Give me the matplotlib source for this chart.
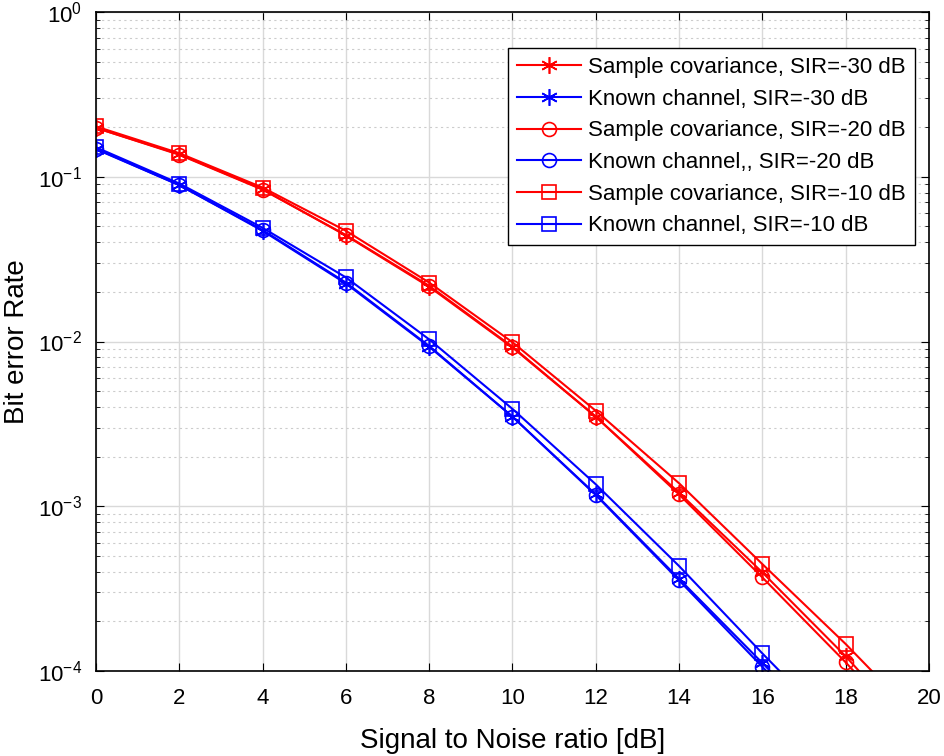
import numpy as np
import matplotlib.pyplot as plt

plt.rcParams['font.family'] = ['Liberation Sans', 'DejaVu Sans']
plt.rcParams['mathtext.fontset'] = 'custom'
plt.rcParams['mathtext.rm'] = 'Liberation Sans'
plt.rcParams['mathtext.it'] = 'Liberation Sans'
plt.rcParams['mathtext.default'] = 'regular'

# SNR points
snr = [0, 2, 4, 6, 8, 10, 12, 14, 16, 18, 20]

# BER curves
sc_30 = [0.198, 0.137, 0.084, 0.044, 0.0215, 0.0092, 0.0035, 0.00121, 0.000397, 0.000123, 3.4e-5]
kc_30 = [0.148, 0.089, 0.047, 0.0225, 0.0093, 0.0035, 0.00118, 0.000363, 0.000112, 3.4e-5, 1.0e-5]
sc_20 = [0.198, 0.136, 0.0835, 0.0443, 0.0218, 0.0093, 0.0035, 0.00118, 0.00037, 0.000113, 3.2e-5]
kc_20 = [0.147, 0.089, 0.0475, 0.0228, 0.0094, 0.0035, 0.00117, 0.000355, 0.000106, 3.2e-5, 9.5e-6]
sc_10 = [0.202, 0.139, 0.086, 0.047, 0.0228, 0.0099, 0.0038, 0.00138, 0.000446, 0.000146, 4.4e-5]
kc_10 = [0.151, 0.091, 0.049, 0.0245, 0.0103, 0.0039, 0.00136, 0.000434, 0.000128, 3.9e-5, 1.2e-5]

labels = ['Sample covariance, SIR=-30 dB', 'Known channel, SIR=-30 dB',
          'Sample covariance, SIR=-20 dB', 'Known channel,, SIR=-20 dB',
          'Sample covariance, SIR=-10 dB', 'Known channel, SIR=-10 dB']

fig = plt.figure(figsize=(9.44, 7.56), dpi=100)
ax = fig.add_axes([0.1017, 0.1124, 0.8823, 0.8717])

asterisk = (6, 2, 0)
series = [(sc_30, 'r', asterisk), (kc_30, 'b', asterisk),
          (sc_20, 'r', 'o'), (kc_20, 'b', 'o'),
          (sc_10, 'r', 's'), (kc_10, 'b', 's')]
for (y, c, m), lab in zip(series, labels):
    ms = 12 if m == asterisk else 10
    ax.semilogy(snr, y, color=c, marker=m, markersize=ms, markerfacecolor='none',
                markeredgecolor=c, markeredgewidth=1.2, linewidth=1.5, label=lab)

ax.set_xlim(0, 20)
ax.set_ylim(1e-4, 1)
ax.set_xticks(np.arange(0, 21, 2))

ax.grid(True, which='major', color='#d9d9d9', linestyle='-', linewidth=1)
ax.grid(True, which='minor', axis='y', color='#cccccc', linestyle=(0, (2, 3)), linewidth=0.8)
ax.tick_params(which='both', direction='in', top=True, right=True, labelsize=16)
ax.tick_params(axis='x', pad=12)
ax.tick_params(axis='y', pad=10)
ax.tick_params(which='major', length=6)
ax.tick_params(which='minor', length=3)
for s in ax.spines.values():
    s.set_linewidth(1.2)

ax.set_xlabel('Signal to Noise ratio [dB]', fontsize=20, labelpad=14)
ax.set_ylabel('Bit error Rate', fontsize=20, labelpad=6)

leg = ax.legend(loc='upper right', bbox_to_anchor=(0.983, 0.945), fontsize=16,
                fancybox=False, edgecolor='black', framealpha=1,
                handlelength=2.9, labelspacing=0.48, borderpad=0.4, handletextpad=0.3,
                borderaxespad=0)
leg.get_frame().set_linewidth(1.0)

fig.savefig('out.png', dpi=100)
